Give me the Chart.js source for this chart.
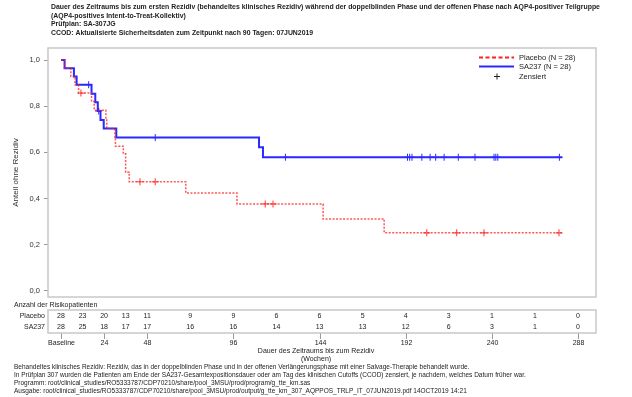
<!DOCTYPE html>
<html>
<head>
<meta charset="utf-8">
<script src="https://cdn.jsdelivr.net/npm/chart.js@4/dist/chart.umd.min.js"></script>
<style>
  body { margin: 0; background: #fff; }
  canvas { display: block; }
</style>
</head>
<body>
<canvas id="kmChart" width="632" height="397"></canvas>
<script>
// Kaplan-Meier steps (weeks, proportion without relapse)
let placeboTimes = [0, 2, 5.5, 7.8, 9.8, 17, 18.5, 25, 25.5, 30, 30.3, 34.7, 36, 38, 69.5, 98, 146, 180, 279];
let placeboSurv  = [1.0, 0.964, 0.929, 0.893, 0.857, 0.820, 0.783, 0.745, 0.704, 0.664, 0.627, 0.594, 0.514, 0.473, 0.424, 0.377, 0.312, 0.252, 0.252];
let placeboCensTimes = [11.1, 44, 52.5, 113.8, 118.1, 203.7, 220.4, 235.6, 277.4];
let placeboCensSurv  = [0.857, 0.473, 0.473, 0.377, 0.377, 0.252, 0.252, 0.252, 0.252];

let sa237Times = [0, 2, 7.2, 8.7, 17, 19.1, 20.5, 22, 23.8, 30.8, 110.3, 112.5, 279];
let sa237Surv  = [1.0, 0.964, 0.929, 0.893, 0.854, 0.817, 0.779, 0.740, 0.703, 0.664, 0.622, 0.579, 0.579];
let sa237CensTimes = [15.4, 21, 52.5, 125, 193, 194.2, 195.5, 201, 205.6, 208.7, 213.4, 221.3, 230.6, 241.2, 242.2, 243.3, 277.6];
let sa237CensSurv  = [0.893, 0.779, 0.664, 0.579, 0.579, 0.579, 0.579, 0.579, 0.579, 0.579, 0.579, 0.579, 0.579, 0.579, 0.579, 0.579, 0.579];

// Patients at risk
let riskTimes   = [0, 12, 24, 36, 48, 72, 96, 120, 144, 168, 192, 216, 240, 264, 288];
let riskPlacebo = [28, 23, 20, 13, 11, 9, 9, 6, 6, 5, 4, 3, 1, 1, 0];
let riskSA237   = [28, 25, 18, 17, 17, 16, 16, 14, 13, 13, 12, 6, 3, 1, 0];

let xTickValues = [0, 24, 48, 96, 144, 192, 240, 288];
let xTickLabels = ['Baseline', '24', '48', '96', '144', '192', '240', '288'];
let yTickValues = [0, 0.2, 0.4, 0.6, 0.8, 1.0];

let titleLines = [
  'Dauer des Zeitraums bis zum ersten Rezidiv (behandeltes klinisches Rezidiv) während der doppelblinden Phase und der offenen Phase nach AQP4-positiver Teilgruppe',
  '(AQP4-positives Intent-to-Treat-Kollektiv)',
  'Prüfplan: SA-307JG',
  'CCOD: Aktualisierte Sicherheitsdaten zum Zeitpunkt nach 90 Tagen: 07JUN2019'
];
let footLines = [
  'Behandeltes klinisches Rezidiv: Rezidiv, das in der doppelblinden Phase und in der offenen Verlängerungsphase mit einer Salvage-Therapie behandelt wurde.',
  'In Prüfplan 307 wurden die Patienten am Ende der SA237-Gesamtexpositionsdauer oder am Tag des klinischen Cutoffs (CCOD) zensiert, je nachdem, welches Datum früher war.',
  'Programm: root/clinical_studies/RO5333787/CDP70210/share/pool_3MSU/prod/program/g_tte_km.sas',
  'Ausgabe: root/clinical_studies/RO5333787/CDP70210/share/pool_3MSU/prod/output/g_tte_km_307_AQPPOS_TRLP_IT_07JUN2019.pdf 14OCT2019 14:21'
];

const FONT = '"Liberation Sans", Arial, sans-serif';
const RED = 'rgba(255,30,30,0.75)';
const BLUE = '#2a2aff';

function pts(xs, ys) {
  return xs.map((x, i) => ({x: x, y: ys[i]}));
}

const extras = {
  id: 'extras',
  afterDraw(chart) {
    const ctx = chart.ctx;
    const a = chart.chartArea;
    const xs = chart.scales.x;
    ctx.save();
    ctx.fillStyle = '#222';
    ctx.textBaseline = 'middle';

    // frame
    ctx.strokeStyle = '#c8c8c8';
    ctx.lineWidth = 1.5;
    ctx.strokeRect(a.left, a.top, a.right - a.left, a.bottom - a.top);

    // title
    ctx.font = 'bold 6.9px ' + FONT;
    ctx.textAlign = 'left';
    titleLines.forEach((t, i) => ctx.fillText(t, 51, 7 + i * 8.7));

    // legend
    ctx.font = '7.5px ' + FONT;
    ctx.lineWidth = 2;
    ctx.strokeStyle = '#ff2020';
    ctx.setLineDash([4, 2.5]);
    ctx.beginPath(); ctx.moveTo(479, 57.5); ctx.lineTo(514, 57.5); ctx.stroke();
    ctx.setLineDash([]);
    ctx.strokeStyle = BLUE;
    ctx.beginPath(); ctx.moveTo(479, 66.5); ctx.lineTo(514, 66.5); ctx.stroke();
    ctx.strokeStyle = '#222';
    ctx.lineWidth = 1;
    ctx.beginPath();
    ctx.moveTo(494, 76.5); ctx.lineTo(500, 76.5);
    ctx.moveTo(497, 73.5); ctx.lineTo(497, 79.5);
    ctx.stroke();
    ctx.fillText('Placebo (N = 28)', 519, 57.5);
    ctx.fillText('SA237 (N = 28)', 519, 66.5);
    ctx.fillText('Zensiert', 519, 76.5);

    // risk table
    ctx.font = '7px ' + FONT;
    ctx.fillText('Anzahl der Risikopatienten', 14, 305.5);
    ctx.strokeStyle = '#c8c8c8';
    ctx.lineWidth = 1.5;
    ctx.strokeRect(a.left, 310, a.right - a.left, 23);
    ctx.textAlign = 'right';
    ctx.fillText('Placebo', 45, 316);
    ctx.fillText('SA237', 45, 327);
    ctx.textAlign = 'center';
    riskTimes.forEach((t, i) => {
      const px = xs.getPixelForValue(t);
      ctx.fillText(String(riskPlacebo[i]), px, 316);
      ctx.fillText(String(riskSA237[i]), px, 327);
    });

    // x axis below the table
    ctx.strokeStyle = '#999';
    ctx.lineWidth = 1;
    xTickValues.forEach((t, i) => {
      const px = Math.round(xs.getPixelForValue(t)) + 0.5;
      ctx.beginPath(); ctx.moveTo(px, 333.5); ctx.lineTo(px, 339); ctx.stroke();
      ctx.fillText(xTickLabels[i], px, 343.5);
    });
    ctx.fillText('Dauer des Zeitraums bis zum Rezidiv', 316, 351.5);
    ctx.fillText('(Wochen)', 316, 359);

    // footnotes
    ctx.font = '6.5px ' + FONT;
    ctx.textAlign = 'left';
    footLines.forEach((t, i) => ctx.fillText(t, 14, 367.5 + i * 8));
    ctx.restore();
  }
};

new Chart(document.getElementById('kmChart').getContext('2d'), {
  type: 'line',
  data: {
    datasets: [
      {
        label: 'Placebo (N = 28)',
        data: pts(placeboTimes, placeboSurv),
        stepped: true,
        borderColor: RED,
        borderWidth: 1.5,
        borderDash: [2, 1.5],
        pointRadius: 0,
        fill: false
      },
      {
        label: 'SA237 (N = 28)',
        data: pts(sa237Times, sa237Surv),
        stepped: true,
        borderColor: BLUE,
        borderWidth: 2,
        pointRadius: 0,
        fill: false
      },
      {
        label: 'Zensiert Placebo',
        data: pts(placeboCensTimes, placeboCensSurv),
        showLine: false,
        pointStyle: 'cross',
        pointRadius: 3.5,
        borderColor: RED,
        borderWidth: 1.2
      },
      {
        label: 'Zensiert SA237',
        data: pts(sa237CensTimes, sa237CensSurv),
        showLine: false,
        pointStyle: 'cross',
        pointRadius: 3.5,
        borderColor: BLUE,
        borderWidth: 1
      }
    ]
  },
  options: {
    responsive: false,
    animation: false,
    devicePixelRatio: 1,
    layout: {padding: {left: 0, right: 36, top: 48, bottom: 100}},
    plugins: {
      legend: {display: false},
      tooltip: {enabled: false}
    },
    scales: {
      x: {
        type: 'linear',
        min: -7.24,
        max: 298,
        display: false
      },
      y: {
        min: -0.026,
        max: 1.052,
        afterFit(s) { s.width = 48; },
        afterBuildTicks(s) { s.ticks = yTickValues.map(v => ({value: v})); },
        grid: {drawOnChartArea: false, tickLength: 4, color: '#999'},
        border: {display: false},
        ticks: {
          callback: v => v.toFixed(1).replace('.', ','),
          font: {family: FONT, size: 7.5},
          color: '#333',
          padding: 4
        },
        title: {
          display: true,
          text: 'Anteil ohne Rezidiv',
          font: {family: FONT, size: 8},
          color: '#333',
          padding: {top: 11, bottom: 0}
        }
      }
    }
  },
  plugins: [extras]
});
</script>
</body>
</html>
